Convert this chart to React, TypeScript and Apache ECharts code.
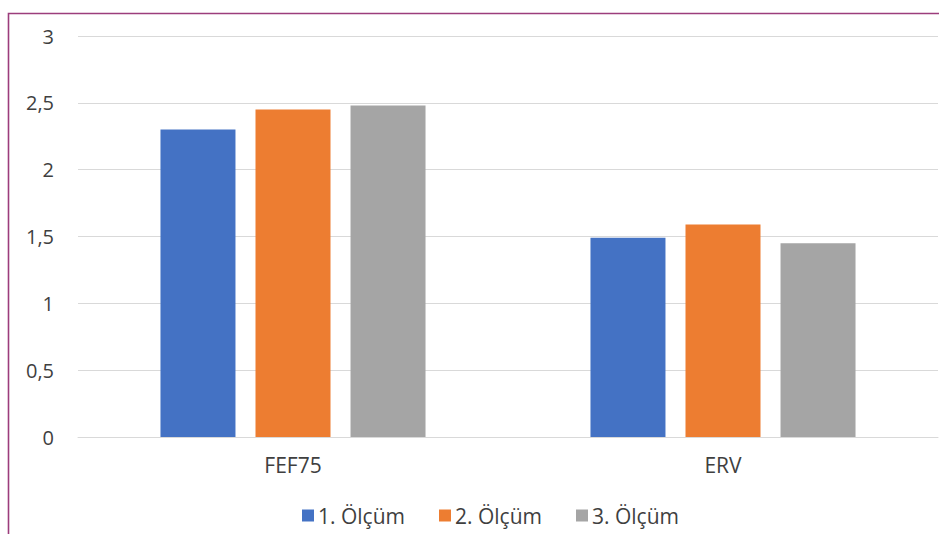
import React, { useEffect, useRef } from "react";
import * as echarts from "echarts";

const categories = ["FEF75", "ERV"];
const seriesNames = ["1. Ölçüm", "2. Ölçüm", "3. Ölçüm"];
const olcum1 = [2.3, 1.49];
const olcum2 = [2.45, 1.59];
const olcum3 = [2.48, 1.45];
const colors = ["#4472c4", "#ed7d31", "#a5a5a5"];

export default function App() {
  const ref = useRef<HTMLDivElement>(null);
  useEffect(() => {
    if (!ref.current) return;
    const chart = echarts.init(ref.current, null, { renderer: "svg" });
    const values = [olcum1, olcum2, olcum3];
    const font = "'Open Sans', sans-serif";
    chart.setOption({
      animation: false,
      backgroundColor: "#ffffff",
      textStyle: { fontFamily: font },
      graphic: [
        {
          type: "rect",
          shape: { x: 8.5, y: 13.5, width: 1000, height: 1000 },
          style: { fill: "none", stroke: "#9c3d7c", lineWidth: 1.6 },
          silent: true,
        },
      ],
      grid: { left: 78, right: 1, top: 36, bottom: 97, containLabel: false },
      legend: {
        left: 302,
        top: 505,
        padding: 0,
        itemWidth: 12,
        itemHeight: 12,
        itemGap: 34,
        icon: "rect",
        textStyle: { fontFamily: font, fontSize: 21, color: "#3f3f3f", padding: [0, 0, 0, -1] },
        data: seriesNames,
      },
      xAxis: {
        type: "category",
        data: categories,
        axisLine: { show: true, lineStyle: { color: "#d9d9d9", width: 1 } },
        axisTick: { show: false },
        axisLabel: { fontFamily: font, fontSize: 21, color: "#3f3f3f", margin: 17 },
      },
      yAxis: {
        type: "value",
        min: 0,
        max: 3,
        interval: 0.5,
        axisLine: { show: false },
        axisTick: { show: false },
        splitLine: { lineStyle: { color: "#d9d9d9", width: 1 } },
        axisLabel: {
          fontFamily: font,
          fontSize: 20,
          color: "#3f3f3f",
          margin: 24,
          formatter: (v: number) => String(v).replace(".", ","),
        },
      },
      series: seriesNames.map((name, i) => ({
        name,
        type: "bar",
        data: values[i],
        barWidth: 75,
        barGap: "26.7%",
        itemStyle: { color: colors[i] },
      })),
    });
    return () => chart.dispose();
  }, []);
  return (
    <div
      ref={ref}
      style={{ position: "fixed", left: 0, top: 0, width: 939, height: 534 }}
    />
  );
}
